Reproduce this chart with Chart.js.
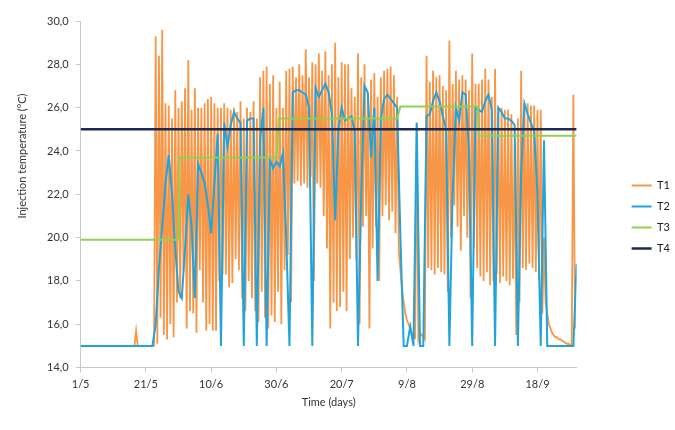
<!DOCTYPE html>
<html>
<head>
<meta charset="utf-8">
<script src="https://cdn.jsdelivr.net/npm/chart.js@4.4.1/dist/chart.umd.min.js"></script>
<style>
  body { margin: 0; background: #fff; }
</style>
</head>
<body>
<canvas id="temp-chart" width="675" height="430"></canvas>
<script>
const seriesNames = ['T1', 'T2', 'T3', 'T4'];
const xTickLabels = ['1/5', '21/5', '10/6', '30/6', '20/7', '9/8', '29/8', '18/9'];
const xTitle = 'Time (days)';
const yTitle = 'Injection temperature (°C)';

// T1, one peak and one trough per day (day 0 = 1/5)
const t1Peak = [
    15.0, 15.0, 15.0, 15.0, 15.0, 15.0, 15.0, 15.0, 15.0, 15.0,
    15.0, 15.0, 15.0, 15.0, 15.0, 15.0, 15.0, 15.7, 15.0, 15.0,
    15.0, 15.0, 15.0,
    29.3, 28.4, 29.6, 26.2, 26.1, 25.5, 26.8, 26.0, 26.3, 26.9,
    28.2, 25.9, 26.9, 26.0, 26.0, 26.2, 26.4, 26.5, 26.2, 26.0,
    26.0, 26.2, 26.0, 25.9, 26.0, 25.8, 26.3, 25.5, 26.0, 25.8,
    26.3, 25.5, 27.4, 27.7, 27.9, 27.1, 27.5, 26.0, 27.2, 26.0,
    27.7, 27.8, 27.9, 27.4, 28.0, 27.5, 28.7, 27.4, 28.1, 28.0,
    28.5, 27.7, 28.6, 27.5, 28.0, 29.0, 27.4, 28.1, 28.0, 28.0,
    26.9, 26.5, 28.5, 27.4, 28.0, 26.5, 27.3, 27.6, 26.5, 27.4,
    27.7, 27.8, 27.9, 27.5, 26.5, 18.5, 17.0, 16.2, 15.8, 15.5,
    25.3, 15.6, 15.4, 28.4, 27.2, 27.7, 27.4, 27.5, 27.0, 26.8,
    29.1, 27.1, 27.7, 27.3, 27.5, 27.3, 26.8, 28.5, 27.1, 27.1,
    27.3, 27.8, 27.3, 26.5, 27.8, 26.0, 26.0, 25.9, 25.9, 25.7,
    24.3, 25.5, 27.7, 26.2, 26.2, 26.1, 26.1, 25.9, 25.9, 20.0,
    16.5, 15.8, 15.5, 15.4, 15.3, 15.2, 15.1, 15.05, 26.6
];
const t1Trough = [
    15.0, 15.0, 15.0, 15.0, 15.0, 15.0, 15.0, 15.0, 15.0, 15.0,
    15.0, 15.0, 15.0, 15.0, 15.0, 15.0, 15.0, 15.0, 15.0, 15.0,
    15.0, 15.0, 15.0,
    15.1, 16.3, 15.5, 15.3, 16.0, 15.4, 17.0, 17.2, 18.5, 15.8,
    16.6, 16.5, 15.6, 18.5, 17.0, 15.7, 16.0, 15.7, 15.7, 18.0,
    18.3, 18.3, 17.7, 17.9, 19.0, 18.5, 17.2, 16.6, 18.0, 17.2,
    16.6, 16.1, 17.5, 16.3, 15.8, 16.4, 16.1, 17.5, 16.0, 18.5,
    19.2, 17.0, 22.5, 22.6, 22.4, 22.5, 22.3, 22.8, 18.0, 22.5,
    22.3, 21.0, 19.5, 15.8, 17.0, 16.6, 16.8, 17.5, 16.6, 19.0,
    20.0, 19.0, 16.0, 20.5, 21.0, 15.8, 19.5, 20.5, 18.0, 21.0,
    21.5, 20.8, 21.2, 20.2, 19.4, 17.6, 16.5, 16.0, 15.6, 15.4,
    15.3, 15.5, 15.3, 18.6, 18.5, 18.3, 18.6, 18.4, 18.3, 17.5,
    20.0, 21.5, 20.5, 19.4, 21.0, 20.0, 17.2, 19.5, 18.6, 18.2,
    18.0, 18.4, 17.8, 18.0, 18.3, 17.9, 18.2, 18.0, 17.8, 18.1,
    15.5, 17.0, 18.6, 18.5, 18.8, 18.6, 18.4, 18.0, 16.5, 17.0,
    16.0, 15.6, 15.4, 15.3, 15.25, 15.15, 15.1, 15.0, 15.8
];
// T2, one value per day
const t2Daily = [
    15.0, 15.0, 15.0, 15.0, 15.0, 15.0, 15.0, 15.0, 15.0, 15.0,
    15.0, 15.0, 15.0, 15.0, 15.0, 15.0, 15.0, 15.0, 15.0, 15.0,
    15.0, 15.0, 15.0,
    16.0, 18.6, 20.5, 22.5, 23.8, 22.0, 19.5, 17.5, 17.2, 19.5,
    22.0, 20.5, 17.2, 23.4, 23.0, 22.5, 21.5, 20.2, 22.5, 24.8,
    15.0, 25.3, 24.2, 25.2, 25.8, 25.5, 25.3, 15.0, 25.4, 25.5,
    25.5, 15.0, 24.5, 26.0, 15.0, 23.6, 23.2, 23.5, 23.3, 23.9,
    20.0, 15.0, 26.7, 26.8, 26.8, 26.7, 26.6, 26.0, 15.0, 26.9,
    26.5, 26.8, 27.1, 26.7, 25.7, 20.8, 25.0, 26.0, 25.4, 25.5,
    25.6, 24.9, 15.0, 22.0, 27.0, 26.7, 23.7, 26.0, 18.0, 25.5,
    26.4, 26.6, 26.4, 26.2, 26.0, 20.0, 15.0, 15.0, 15.9, 15.0,
    25.3, 15.0, 15.0, 25.6, 25.7, 26.3, 26.7, 26.3, 25.6, 25.0,
    15.0, 22.0, 26.0, 25.4, 26.7, 26.6, 24.0, 15.0, 26.0, 25.9,
    25.8, 26.3, 26.6, 25.9, 15.0, 26.0, 25.8, 25.5, 25.5, 25.4,
    25.2, 15.0, 23.0, 26.2, 25.7, 25.3, 24.9, 22.0, 15.0, 24.5,
    15.0, 15.0, 15.0, 15.0, 15.0, 15.0, 15.0, 15.0, 15.0, 18.8
];
// T3 is a step line
const t3Days = [0, 30, 30.3, 60, 60.8, 97, 98, 121.7, 122, 152];
const t3Values = [19.9, 19.9, 23.7, 23.7, 25.5, 25.5, 26.05, 26.05, 24.7, 24.7];
const t4Days = [0, 152];
const t4Values = [25.0, 25.0];

const colors = ['#f79646', '#22a3dc', '#92d050', '#1c2b4f'];
const widths = [1.8, 2, 2, 2.5];

function buildT1() {
    const pts = [];
    for (let d = 0; d < t1Peak.length; d++) {
        pts.push({ x: d, y: t1Peak[d] });
        pts.push({ x: d + 0.5, y: t1Trough[d] });
    }
    return pts;
}

function pairs(xs, ys) {
    return xs.map((x, i) => ({ x: x, y: ys[i] }));
}

const seriesData = [
    buildT1(),
    t2Daily.map((v, d) => ({ x: d, y: v })),
    pairs(t3Days, t3Values),
    pairs(t4Days, t4Values)
];

const yTitlePlugin = {
    id: 'yTitle',
    afterDraw(chart) {
        const ctx = chart.ctx;
        ctx.save();
        ctx.translate(22, 156);
        ctx.rotate(-Math.PI / 2);
        ctx.font = '11px Lato';
        ctx.fillStyle = '#333';
        ctx.textAlign = 'center';
        ctx.textBaseline = 'middle';
        ctx.fillText(yTitle, 0, 0);
        ctx.restore();
    }
};

Chart.defaults.font.family = 'Lato';
Chart.defaults.font.size = 11;
Chart.defaults.color = '#333';

const axisGrey = '#c8c8c8';

new Chart(document.getElementById('temp-chart').getContext('2d'), {
    type: 'line',
    data: {
        datasets: seriesNames.map((name, i) => ({
            label: name,
            data: seriesData[i],
            borderColor: colors[i],
            backgroundColor: colors[i],
            borderWidth: widths[i],
            pointRadius: 0,
            tension: 0,
            fill: false,
            order: 4 - i
        }))
    },
    options: {
        responsive: false,
        animation: false,
        layout: { padding: { left: 40, top: 21, right: -5, bottom: 17 } },
        plugins: {
            tooltip: { enabled: false },
            legend: {
                position: 'right',
                labels: {
                    usePointStyle: true,
                    pointStyle: 'line',
                    pointStyleWidth: 20,
                    boxWidth: 20,
                    padding: 10,
                    color: '#222',
                    sort: (a, b) => a.datasetIndex - b.datasetIndex
                }
            }
        },
        scales: {
            x: {
                type: 'linear',
                min: 0,
                max: 152,
                grid: { drawOnChartArea: false, tickLength: 5, color: axisGrey },
                border: { color: axisGrey },
                ticks: {
                    stepSize: 20,
                    includeBounds: false,
                    autoSkip: false,
                    maxRotation: 0,
                    padding: 5,
                    callback: (v) => xTickLabels[v / 20] ?? ''
                },
                title: { display: true, text: xTitle, padding: { top: 0, bottom: 4 } }
            },
            y: {
                min: 14,
                max: 30,
                grid: { drawOnChartArea: false, tickLength: 5, color: axisGrey },
                border: { color: axisGrey },
                ticks: {
                    stepSize: 2,
                    padding: 7,
                    callback: (v) => v.toFixed(1).replace('.', ',')
                }
            },
            gap: {
                type: 'linear',
                position: 'right',
                display: true,
                grid: { display: false },
                border: { display: false },
                ticks: { display: false },
                afterFit: (s) => { s.width = 45; }
            }
        }
    },
    plugins: [yTitlePlugin]
});
</script>
</body>
</html>
